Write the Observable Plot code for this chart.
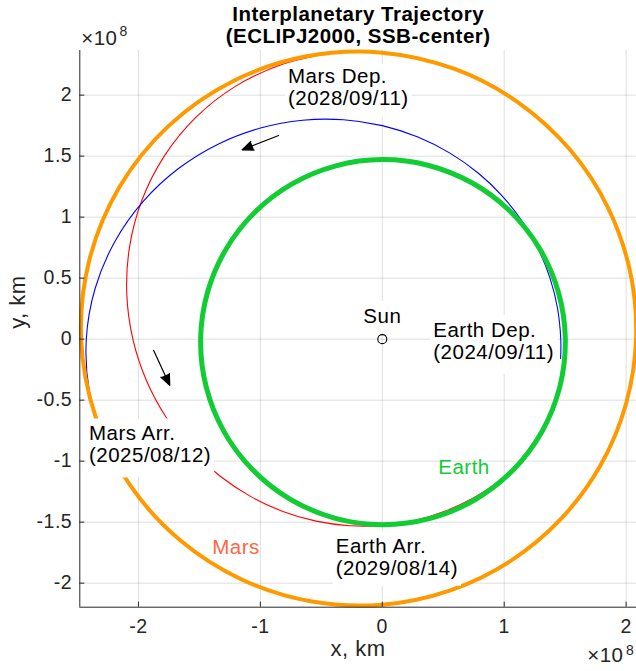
<!DOCTYPE html>
<html>
<head>
<meta charset="utf-8">
<script src="https://cdn.jsdelivr.net/npm/d3@7"></script>
<script src="https://cdn.jsdelivr.net/npm/@observablehq/plot@0.6"></script>
<style>
html, body { margin: 0; padding: 0; background: #fff; overflow: hidden; }
svg text { letter-spacing: 0.5px; }
</style>
</head>
<body>
<div id="chart"></div>
<script>
// ---- data (units: 1e8 km, ECLIPJ2000, Sun at origin) ----
// Mars orbit
const marsX = [2.0815, 2.0344, 1.8546, 1.5457, 1.1187, 0.5934, 0, -0.6212, -1.2219, -1.7500, -2.1568, -2.4039, -2.4698, -2.3529, -2.0701, -1.6527, -1.1407, -0.5763, 0, 0.5522, 1.0502, 1.4693, 1.7901, 1.9978];
const marsY = [0, 0.5451, 1.0708, 1.5457, 1.9376, 2.2145, 2.3484, 2.3184, 2.1164, 1.7500, 1.2452, 0.6441, 0, -0.6305, -1.1952, -1.6527, -1.9757, -2.1507, -2.1764, -2.0610, -1.8190, -1.4693, -1.0336, -0.5353];
// Earth orbit
const earthX = [1.5012, 1.4438, 1.2889, 1.0483, 0.7388, 0.3815, 0, -0.3807, -0.7360, -1.0428, -1.2807, -1.4334, -1.4900, -1.4455, -1.3016, -1.0670, -0.7571, -0.3929, 0, 0.3937, 0.7600, 1.0727, 1.3101, 1.4560];
const earthY = [0, 0.3868, 0.7442, 1.0483, 1.2796, 1.4237, 1.4716, 1.4209, 1.2749, 1.0428, 0.7394, 0.3841, 0, -0.3873, -0.7515, -1.0670, -1.3113, -1.4663, -1.5204, -1.4692, -1.3163, -1.0727, -0.7564, -0.3901];
// Outbound leg Earth -> Mars (2024/09/11 -> 2025/08/12), blue
const outX = [1.4625, 1.4638, 1.4372, 1.3755, 1.2794, 1.1488, 0.9844, 0.7861, 0.5549, 0.2920, 0, -0.3172, -0.6532, -0.9991, -1.3429, -1.6689, -1.9591, -2.1942, -2.3553, -2.4277, -2.4030, -2.2813, -2.105];
const outY = [-0.1589, 0, 0.2534, 0.5007, 0.7387, 0.9640, 1.1731, 1.3616, 1.5246, 1.6562, 1.7500, 1.7987, 1.7946, 1.7304, 1.6004, 1.4004, 1.1311, 0.7986, 0.4153, 0, -0.4237, -0.8303, -1.148];
// Return leg Mars -> Earth (2028/09/11 -> 2029/08/14), red
const retX = [-0.5775, -0.8200, -1.1987, -1.5272, -1.7883, -1.9716, -2.0733, -2.0956, -2.0457, -1.9337, -1.7705, -1.5673, -1.3345, -1.0812, -0.8152, -0.5429, -0.2696, 0, 0.2622, 0.5134, 0.7506, 0.9704, 1.0926];
const retY = [2.3161, 2.2528, 2.0762, 1.8200, 1.5006, 1.1383, 0.7546, 0.3695, 0, -0.3410, -0.6444, -0.9049, -1.1198, -1.2886, -1.4119, -1.4915, -1.5290, -1.5268, -1.4868, -1.4106, -1.3000, -1.1565, -1.0551];
// Sun
const sunX = [0];
const sunY = [0];
// Direction arrows (data coords)
const arrowX1 = [-0.850, -1.875];
const arrowY1 = [1.669, -0.092];
const arrowX2 = [-1.150, -1.743];
const arrowY2 = [1.552, -0.379];
// Annotations
const noteText = ["Mars Dep.\n(2028/09/11)", "Earth Dep.\n(2024/09/11)", "Mars Arr.\n(2025/08/12)", "Earth Arr.\n(2029/08/14)"];
const noteX = [-0.774, 0.418, -2.406, -0.382];
const noteY = [2.226, 0.145, -0.702, -1.627];
const sunText = ["Sun"];
const sunLabelX = [0];
const sunLabelY = [0.252];
const nameText = ["Earth", "Mars"];
const nameX = [0.459, -1.395];
const nameY = [-0.988, -1.643];
// Axes
const xDomain = [-2.481, 2.085];
const yDomain = [-2.197, 2.366];
const xTicks = [-2, -1, 0, 1, 2];
const yTicks = [-2, -1.5, -1, -0.5, 0, 0.5, 1, 1.5, 2];
const titleText = "Interplanetary Trajectory\n(ECLIPJ2000, SSB-center)";
const xLabel = "x, km";
const yLabel = "y, km";
const expBase = "\u00d710";
const expPow = "8";

// ---- build tables ----
const pts = (xs, ys) => xs.map((x, i) => ({x, y: ys[i]}));
const mars = pts(marsX, marsY);
const earth = pts(earthX, earthY);
const outbound = pts(outX, outY);
const ret = pts(retX, retY);
const sun = pts(sunX, sunY);
const arrows = arrowX1.map((x1, i) => ({x1, y1: arrowY1[i], x2: arrowX2[i], y2: arrowY2[i]}));
const notes = noteText.map((t, i) => ({t, x: noteX[i], y: noteY[i]}));
const sunNote = sunText.map((t, i) => ({t, x: sunLabelX[i], y: sunLabelY[i]}));
const names = nameText.map((t, i) => ({t, x: nameX[i], y: nameY[i]}));

const ink = "#262626";
const FONT = "'Liberation Sans', Arial, Helvetica, sans-serif";

const svg = Plot.plot({
  width: 636,
  height: 671,
  marginLeft: 79.3,
  marginRight: 0,
  marginTop: 50,
  marginBottom: 64.3,
  style: {fontFamily: FONT, fontSize: "19.5px", background: "white", color: ink, overflow: "visible"},
  x: {domain: xDomain},
  y: {domain: yDomain},
  marks: [
    Plot.gridX(xTicks, {stroke: ink, strokeOpacity: 0.15, strokeWidth: 1}),
    Plot.gridY(yTicks, {stroke: ink, strokeOpacity: 0.15, strokeWidth: 1}),
    Plot.line(ret, {x: "x", y: "y", stroke: "#ff0000", strokeWidth: 1.1, curve: "catmull-rom"}),
    Plot.line(outbound, {x: "x", y: "y", stroke: "#0000ff", strokeWidth: 1.1, curve: "catmull-rom"}),
    Plot.line(mars, {x: "x", y: "y", stroke: "#ff9900", strokeWidth: 4, curve: "catmull-rom-closed"}),
    Plot.line(earth, {x: "x", y: "y", stroke: "#11cc33", strokeWidth: 5, curve: "catmull-rom-closed"}),
    Plot.ruleX([xDomain[0]], {stroke: ink, strokeWidth: 1}),
    Plot.ruleY([yDomain[0]], {stroke: ink, strokeWidth: 1}),
    Plot.axisX({ticks: xTicks, tickSize: -5, tickPadding: 16.6, tickFormat: d => String(d), label: null, stroke: ink, fill: ink, fontSize: 19.5}),
    Plot.axisY({ticks: yTicks, tickSize: -5, tickPadding: 12.6, tickFormat: d => String(d), label: null, stroke: ink, fill: ink, fontSize: 19.5}),
    Plot.arrow(arrows, {x1: "x1", y1: "y1", x2: "x2", y2: "y2", stroke: "black", strokeWidth: 1.2, headLength: 15, headAngle: 45}),
    Plot.text(notes, {x: "x", y: "y", text: "t", textAnchor: "start", lineAnchor: "top", fontSize: 20.5, lineHeight: 22 / 20.5, fill: "black"}),
    Plot.text(sunNote, {x: "x", y: "y", text: "t", textAnchor: "middle", lineAnchor: "top", fontSize: 20.5, fill: "black"}),
    Plot.text(names, {x: "x", y: "y", text: "t", textAnchor: "start", lineAnchor: "top", fontSize: 20.5, fill: d => d.t === "Earth" ? "#11cc33" : "#ff6644"}),
    Plot.dot(sun, {x: "x", y: "y", r: 4.5, stroke: "black", fill: "none", strokeWidth: 1.1}),
    Plot.text([titleText], {text: d => d, frameAnchor: "top", dy: -7.3, lineAnchor: "bottom", fontSize: 20.5, fontWeight: "bold", lineHeight: 22 / 20.5, fill: "black"}),
    Plot.text([xLabel], {text: d => d, frameAnchor: "bottom", dy: 48.3, lineAnchor: "bottom", fontSize: 22, fill: ink}),
    Plot.text([yLabel], {text: d => d, frameAnchor: "left", dx: -55.3, rotate: -90, lineAnchor: "bottom", fontSize: 22, fill: ink}),
    Plot.text([expBase], {text: d => d, frameAnchor: "top-left", dx: 1.4, dy: -5.7, textAnchor: "start", lineAnchor: "bottom", fontSize: 20.5, fill: ink}),
    Plot.text([expPow], {text: d => d, frameAnchor: "top-left", dx: 39.7, dy: -15, textAnchor: "start", lineAnchor: "bottom", fontSize: 14, fill: ink}),
    Plot.text([expBase], {text: d => d, frameAnchor: "bottom-right", dx: -49.3, dy: 55, textAnchor: "start", lineAnchor: "bottom", fontSize: 20.5, fill: ink}),
    Plot.text([expPow], {text: d => d, frameAnchor: "bottom-right", dx: -10.5, dy: 47.3, textAnchor: "start", lineAnchor: "bottom", fontSize: 14, fill: ink})
  ]
});
document.getElementById("chart").append(svg);

// filled arrow heads (MATLAB-style annotation arrows)
svg.querySelectorAll('g[aria-label="arrow"] path').forEach(p => {
  p.setAttribute("fill", "black");
  p.setAttribute("stroke-linejoin", "miter");
});

// white boxes behind the black annotations (like MATLAB text BackgroundColor)
// padding [top, bottom] in px per annotation
const boxPad = [[0, 8], [3, 11], [3, 11], [3, 6.5]];
const sunPad = [3, 5];
const boxed = new Map([
  ...noteText.map((t, i) => [t.replace(/\n/g, ""), boxPad[i]]),
  ...sunText.map(t => [t, sunPad])
]);
svg.querySelectorAll("text").forEach(t => {
  const key = t.textContent;
  if (!boxed.has(key)) return;
  const b = t.getBBox();
  const [padT, padB] = boxed.get(key);
  const r = document.createElementNS("http://www.w3.org/2000/svg", "rect");
  r.setAttribute("x", b.x - 3);
  r.setAttribute("y", b.y - padT);
  r.setAttribute("width", b.width + 6);
  r.setAttribute("height", b.height + padT + padB);
  r.setAttribute("fill", "white");
  r.setAttribute("stroke", "none");
  const tr = t.getAttribute("transform");
  if (tr) r.setAttribute("transform", tr);
  t.parentNode.insertBefore(r, t);
});
</script>
</body>
</html>
